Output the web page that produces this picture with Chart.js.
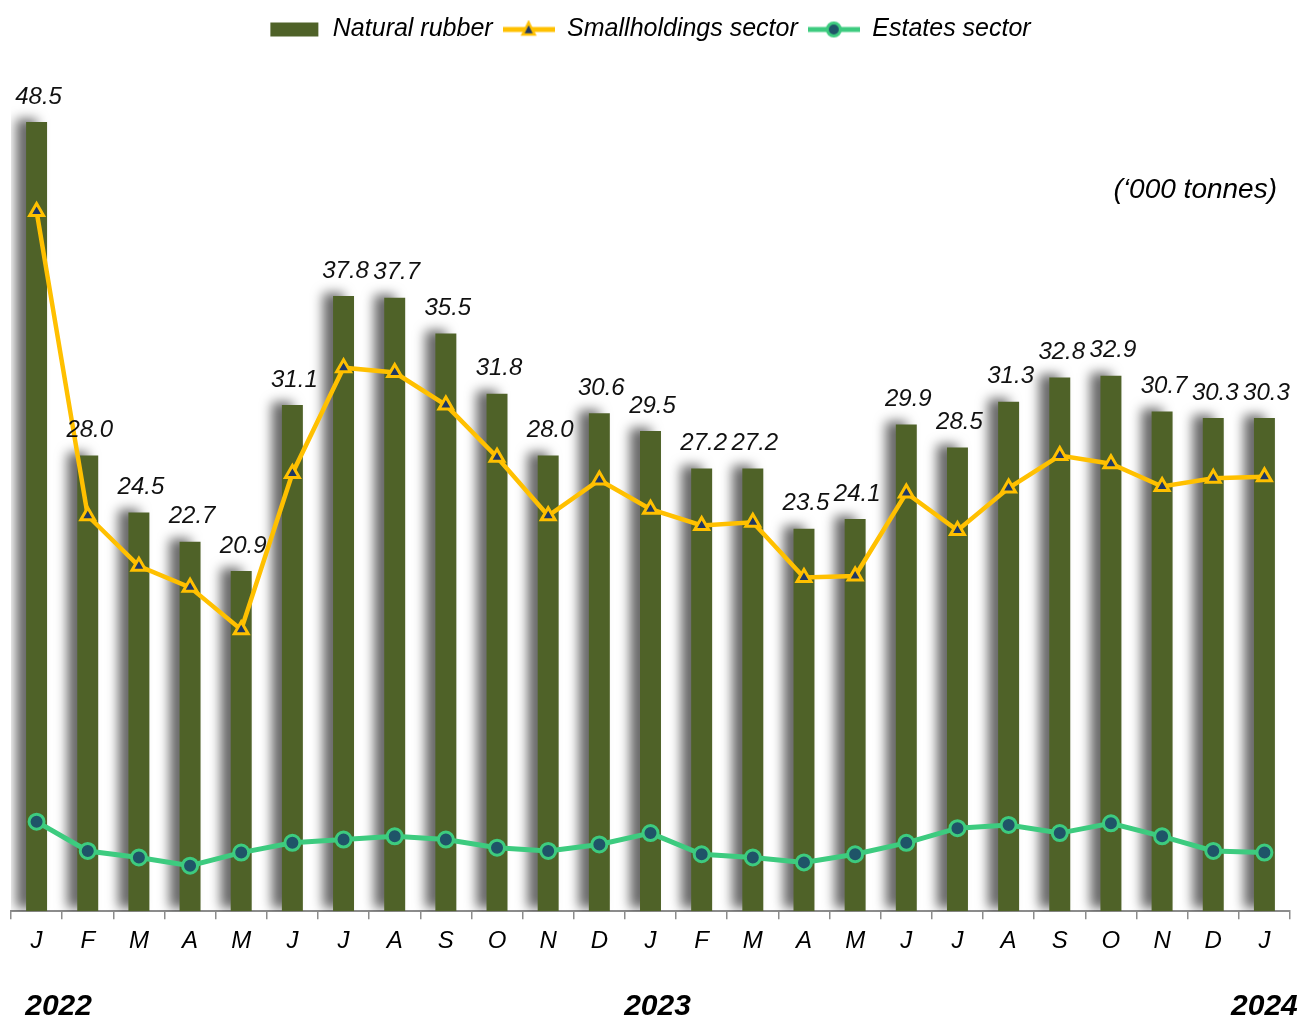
<!DOCTYPE html>
<html>
<head>
<meta charset="utf-8">
<script src="https://cdn.jsdelivr.net/npm/chart.js@4.4.1/dist/chart.umd.min.js"></script>
<style>
  html, body { margin: 0; padding: 0; background: #fff; }
  #wrap { width: 1301px; height: 1020px; position: relative; }
</style>
</head>
<body>
<div id="wrap"><canvas id="rubberChart" width="1301" height="1020"></canvas></div>
<script>
const monthLabels = ['J','F','M','A','M','J','J','A','S','O','N','D','J','F','M','A','M','J','J','A','S','O','N','D','J'];
const yearLabels = ['2022', '2023', '2024'];
const yearIndex = [0, 12, 24];
const naturalRubber = [48.5, 28.0, 24.5, 22.7, 20.9, 31.1, 37.8, 37.7, 35.5, 31.8, 28.0, 30.6, 29.5, 27.2, 27.2, 23.5, 24.1, 29.9, 28.5, 31.3, 32.8, 32.9, 30.7, 30.3, 30.3];
const smallholdings = [43.0, 24.3, 21.2, 19.9, 17.3, 26.9, 33.4, 33.1, 31.1, 27.9, 24.3, 26.5, 24.7, 23.7, 23.9, 20.5, 20.6, 25.7, 23.4, 26.0, 28.0, 27.5, 26.1, 26.6, 26.7];
const estates = [5.5, 3.7, 3.3, 2.8, 3.6, 4.2, 4.4, 4.6, 4.4, 3.9, 3.7, 4.1, 4.8, 3.5, 3.3, 3.0, 3.5, 4.2, 5.1, 5.3, 4.8, 5.4, 4.6, 3.7, 3.6];
const unitText = '(\u2018000 tonnes)';

const FONT = "'Liberation Sans', Arial, sans-serif";
const barColor = '#4F6228';
const yellow = '#FFC000';
const green = '#3DCB7F';
const navy = '#1F3864';
const teal = '#1F5468';

Chart.defaults.font.family = FONT;

// legend icons drawn on small canvases
function makeIcon(kind) {
  const c = document.createElement('canvas');
  c.width = 52; c.height = 20;
  const g = c.getContext('2d');
  if (kind === 'bar') {
    g.fillStyle = barColor;
    g.fillRect(2, 3, 48, 14);
  } else if (kind === 'tri') {
    g.strokeStyle = yellow; g.lineWidth = 5;
    g.beginPath(); g.moveTo(0, 10); g.lineTo(52, 10); g.stroke();
    g.beginPath(); g.moveTo(26, 3); g.lineTo(32, 15); g.lineTo(20, 15); g.closePath();
    g.fillStyle = navy; g.fill(); g.lineWidth = 2.5; g.stroke();
  } else {
    g.strokeStyle = green; g.lineWidth = 5;
    g.beginPath(); g.moveTo(0, 10); g.lineTo(52, 10); g.stroke();
    g.beginPath(); g.arc(26, 10, 6.5, 0, Math.PI * 2);
    g.fillStyle = teal; g.fill(); g.lineWidth = 3; g.stroke();
  }
  return c;
}
const icons = [makeIcon('bar'), makeIcon('tri'), makeIcon('dot')];

// push the plot down below the legend
const legendGap = {
  id: 'legendGap',
  beforeInit(chart) {
    const origFit = chart.legend.fit;
    chart.legend.fit = function () {
      origFit.bind(chart.legend)();
      this.height += 45.5;
    };
  }
};

const barShadow = {
  id: 'barShadow',
  beforeDatasetDraw(chart, args) {
    if (args.index !== 0) return;
    const ctx = chart.ctx;
    ctx.save();
    ctx.shadowColor = 'rgba(0,0,0,0.6)';
    ctx.shadowBlur = 12;
    ctx.shadowOffsetX = -10;
    ctx.shadowOffsetY = -3;
  },
  afterDatasetDraw(chart, args) {
    if (args.index !== 0) return;
    chart.ctx.restore();
  }
};

const extraText = {
  id: 'extraText',
  afterDatasetsDraw(chart) {
    const ctx = chart.ctx;
    const meta = chart.getDatasetMeta(0);
    ctx.save();
    ctx.fillStyle = '#111';
    ctx.font = 'italic 24px ' + FONT;
    ctx.textAlign = 'center';
    ctx.textBaseline = 'middle';
    meta.data.forEach((bar, i) => {
      ctx.fillText(naturalRubber[i].toFixed(1), bar.x + 2, bar.y - 25);
    });

    ctx.font = 'italic 28px ' + FONT;
    ctx.textAlign = 'right';
    ctx.fillStyle = '#000';
    ctx.fillText(unitText, 1277, 190);

    const xs = chart.scales.x;
    const dx = [22, 7, 0];
    ctx.font = 'italic bold 30px ' + FONT;
    ctx.textAlign = 'center';
    yearLabels.forEach((yr, k) => {
      ctx.fillText(yr, xs.getPixelForValue(yearIndex[k]) + dx[k], 1007);
    });
    ctx.restore();
  }
};

new Chart(document.getElementById('rubberChart'), {
  type: 'bar',
  plugins: [legendGap, barShadow, extraText],
  data: {
    labels: monthLabels,
    datasets: [{
      type: 'bar',
      label: 'Natural rubber',
      data: naturalRubber,
      backgroundColor: barColor,
      barPercentage: 0.41,
      categoryPercentage: 1,
      order: 3
    }, {
      type: 'line',
      label: 'Smallholdings sector',
      data: smallholdings,
      borderColor: yellow,
      borderWidth: 4.5,
      pointStyle: 'triangle',
      pointRadius: 8,
      pointBorderWidth: 3,
      pointBackgroundColor: navy,
      pointBorderColor: yellow,
      tension: 0,
      order: 1
    }, {
      type: 'line',
      label: 'Estates sector',
      data: estates,
      borderColor: green,
      borderWidth: 5,
      pointStyle: 'circle',
      pointRadius: 7.5,
      pointBorderWidth: 3,
      pointBackgroundColor: teal,
      pointBorderColor: green,
      tension: 0,
      order: 2
    }]
  },
  options: {
    responsive: false,
    animation: false,
    devicePixelRatio: 1,
    layout: { padding: { top: 7, left: 9, right: 11, bottom: 56 } },
    plugins: {
      legend: {
        position: 'top',
        labels: {
          usePointStyle: true,
          pointStyleWidth: 52,
          boxHeight: 20,
          padding: 10,
          color: '#000',
          font: { size: 25, style: 'italic' },
          generateLabels: chart => chart.data.datasets.map((ds, i) => ({
            text: ds.label,
            pointStyle: icons[i],
            datasetIndex: i,
            hidden: false,
            fillStyle: 'transparent',
            strokeStyle: 'transparent',
            lineWidth: 0,
            fontColor: '#000'
          }))
        }
      },
      tooltip: { enabled: false }
    },
    scales: {
      x: {
        offset: true,
        grid: {
          offset: true,
          drawOnChartArea: false,
          drawTicks: true,
          tickLength: 8,
          color: '#8c8c8c',
          lineWidth: 1.5
        },
        border: { display: true, color: '#8c8c8c', width: 2 },
        ticks: {
          color: '#000',
          font: { size: 24, style: 'italic' },
          padding: 8,
          maxRotation: 0,
          autoSkip: false
        }
      },
      y: {
        display: false,
        min: 0,
        max: 50
      }
    }
  }
});
</script>
</body>
</html>
